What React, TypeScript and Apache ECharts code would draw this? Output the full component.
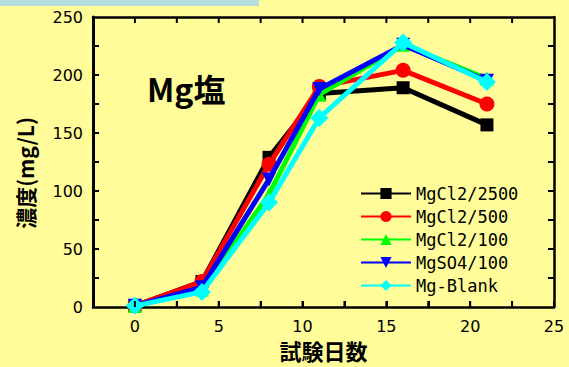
import React, { useEffect, useRef } from "react";
import * as echarts from "echarts";

const days = [0, 4, 8, 11, 16, 21];
const mgcl2_2500 = [1, 22, 129, 184, 189, 157];
const mgcl2_500 = [1, 22, 123, 190, 204, 175];
const mgcl2_100 = [1, 15, 97, 183, 226, 197];
const mgso4_100 = [1, 17, 110, 188, 226, 195];
const mg_blank = [1, 13, 90, 163, 228, 194];

const seriesNames = ["MgCl2/2500", "MgCl2/500", "MgCl2/100", "MgSO4/100", "Mg-Blank"];
const seriesValues = [mgcl2_2500, mgcl2_500, mgcl2_100, mgso4_100, mg_blank];
const seriesColors = ["#000000", "#ff0000", "#00ff00", "#0000ff", "#00ffff"];
const seriesSymbols = ["rect", "circle", "triangle", "path://M0,0L10,0L5,9Z", "diamond"];
const symbolSizes = [13, 15, 14, 14, 18];

const xTickValues = [0, 2.5, 5, 7.5, 10, 12.5, 15, 17.5, 20, 22.5];
const yTickValues = [25, 50, 75, 100, 125, 150, 175, 200, 225];
const X_MIN = -2.5;
const X_MAX = 25;
const Y_MIN = 0;
const Y_MAX = 250;

export default function App() {
  const ref = useRef<HTMLDivElement>(null);
  useEffect(() => {
    const chart = echarts.init(ref.current!, null, { renderer: "svg" });
    const axisFont = { fontFamily: "DejaVu Sans", fontSize: 16, color: "#000" };
    const TL = 6;
    const baseGraphic: any[] = [
      { type: "rect", shape: { x: 0, y: 0, width: 259, height: 6 }, style: { fill: "#b8dde0" } },
      {
        type: "text",
        x: 147,
        y: 72,
        style: { text: "Mg塩", font: "bold 32px 'Noto Sans CJK JP'", fill: "#000" },
      },
    ];
    chart.setOption({
      animation: false,
      backgroundColor: "#fffc99",
      grid: { left: 93, top: 17, right: 15, bottom: 60, containLabel: false, outerBoundsMode: "none" },
      xAxis: [
        {
          type: "value",
          min: X_MIN,
          max: X_MAX,
          interval: 2.5,
          position: "bottom",
          axisLine: { show: true, onZero: false, lineStyle: { color: "#000", width: 2.5 } },
          axisTick: { show: true, inside: true, length: TL, lineStyle: { color: "#000", width: 2 } },
          axisLabel: {
            show: true,
            margin: 11,
            ...axisFont,
            formatter: (v: number) => (v >= 0 && v % 5 === 0 ? String(v) : ""),
          },
          splitLine: { show: false },
          name: "試験日数",
          nameLocation: "middle",
          nameGap: 32,
          nameTextStyle: { fontFamily: "Noto Sans CJK JP", fontSize: 22, fontWeight: "bold", color: "#000" },
        },
        {
          type: "value",
          min: X_MIN,
          max: X_MAX,
          interval: 2.5,
          position: "top",
          axisLine: { show: true, onZero: false, lineStyle: { color: "#000", width: 2.5 } },
          axisTick: { show: false },
          axisLabel: { show: false },
          splitLine: { show: false },
        },
      ],
      yAxis: [
        {
          type: "value",
          min: Y_MIN,
          max: Y_MAX,
          interval: 50,
          position: "left",
          axisLine: { show: true, onZero: false, lineStyle: { color: "#000", width: 3 } },
          axisTick: { show: false },
          axisLabel: { show: true, margin: 10, ...axisFont },
          splitLine: { show: false },
          name: "濃度(mg/L)",
          nameLocation: "middle",
          nameGap: 58,
          nameRotate: 90,
          nameTextStyle: {
            fontFamily: "Noto Sans CJK JP",
            fontSize: 21,
            fontWeight: "bold",
            color: "#000",
            padding: [0, 0, 0, -22],
          },
        },
        {
          type: "value",
          min: Y_MIN,
          max: Y_MAX,
          interval: 50,
          position: "right",
          axisLine: { show: true, onZero: false, lineStyle: { color: "#000", width: 2.5 } },
          axisTick: { show: false },
          axisLabel: { show: false },
          splitLine: { show: false },
        },
      ],
      legend: {
        orient: "vertical",
        left: 355,
        top: 180,
        itemWidth: 50,
        itemHeight: 14,
        itemGap: 6,
        data: seriesNames,
        textStyle: { fontFamily: "DejaVu Sans Mono", fontSize: 17, color: "#000" },
      },
      graphic: baseGraphic,
      series: seriesNames.map((name, i) => ({
        name,
        type: "line",
        xAxisIndex: 0,
        yAxisIndex: 0,
        data: days.map((d, j) => [d, seriesValues[i][j]]),
        symbol: seriesSymbols[i],
        symbolSize: symbolSizes[i],
        itemStyle: { color: seriesColors[i] },
        lineStyle: { color: seriesColors[i], width: 5 },
        z: 2 + i,
      })),
    });

    const finder = { xAxisIndex: 0, yAxisIndex: 0 };
    const ticks: any[] = [];
    const mk = (x1: number, y1: number, x2: number, y2: number) => ({
      type: "line",
      z: 100,
      shape: { x1, y1, x2, y2 },
      style: { stroke: "#000000", lineWidth: 2 },
    });
    xTickValues.forEach((v) => {
      const b = chart.convertToPixel(finder, [v, Y_MIN]) as number[];
      const t = chart.convertToPixel(finder, [v, Y_MAX]) as number[];
      if (b && t) {
        ticks.push(mk(b[0], b[1], b[0], b[1] - TL));
        ticks.push(mk(t[0], t[1], t[0], t[1] + TL));
      }
    });
    yTickValues.forEach((v) => {
      const l = chart.convertToPixel(finder, [X_MIN, v]) as number[];
      const r = chart.convertToPixel(finder, [X_MAX, v]) as number[];
      if (l && r) {
        ticks.push(mk(l[0], l[1], l[0] + TL, l[1]));
        ticks.push(mk(r[0], r[1], r[0] - TL, r[1]));
      }
    });
    chart.setOption({ graphic: [...baseGraphic, ...ticks] });
    return () => chart.dispose();
  }, []);
  return <div ref={ref} style={{ width: 569, height: 367, position: "absolute", left: 0, top: 0 }} />;
}
